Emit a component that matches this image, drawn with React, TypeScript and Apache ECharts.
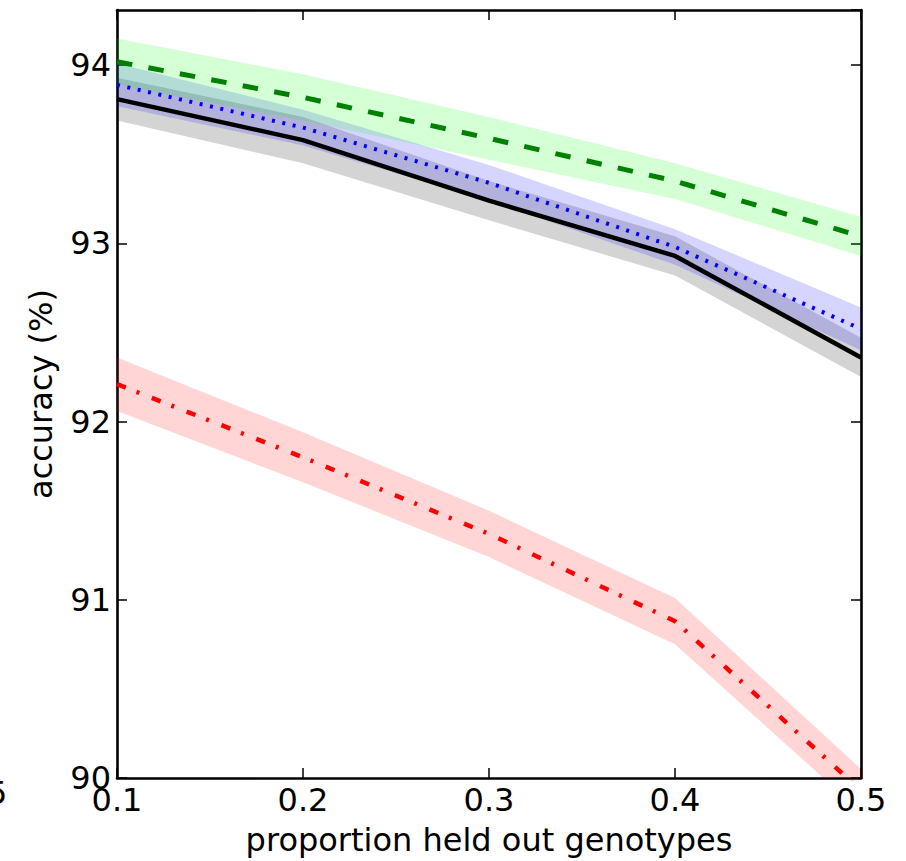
import React, { useEffect, useRef } from "react";
import * as echarts from "echarts";

const xTicks = ["0.1", "0.2", "0.3", "0.4", "0.5"];
const yTicks = [90, 91, 92, 93, 94];

const greenMean = [94.02, 93.82, 93.59, 93.35, 93.04];
const greenErr = [0.13, 0.13, 0.12, 0.1, 0.11];
const blueMean = [93.89, 93.65, 93.34, 92.98, 92.52];
const blueErr = [0.12, 0.1, 0.1, 0.1, 0.12];
const blackMean = [93.81, 93.58, 93.24, 92.93, 92.36];
const blackErr = [0.12, 0.13, 0.11, 0.11, 0.11];
const redMean = [92.21, 91.8, 91.37, 90.88, 89.93];
const redErr = [0.15, 0.14, 0.13, 0.13, 0.12];

const FONT = "DejaVu Sans";

function bandSeries(name: string, mean: number[], err: number[], color: string) {
  return [
    {
      type: "line",
      stack: name,
      data: mean.map((m, i) => m - err[i]),
      symbol: "none",
      lineStyle: { opacity: 0, width: 0 },
      silent: true,
      z: 1,
    },
    {
      type: "line",
      stack: name,
      data: err.map((e) => 2 * e),
      symbol: "none",
      lineStyle: { opacity: 0, width: 0 },
      areaStyle: { color, opacity: 1 },
      silent: true,
      z: 1,
    },
  ];
}

function lineSeries(mean: number[], color: string, width: number, type: any) {
  return {
    type: "line",
    data: mean,
    symbol: "none",
    lineStyle: { color, width, type, cap: "butt" },
    z: 3,
  };
}

export default function App() {
  const ref = useRef<HTMLDivElement>(null);
  useEffect(() => {
    if (!ref.current) return;
    const chart = echarts.init(ref.current, undefined, { renderer: "svg" });
    const tickStyle = { show: true, inside: true, length: 10, lineStyle: { color: "#000", width: 1.5 } };
    const catTick = { ...tickStyle, alignWithLabel: true };
    const axisLineStyle = { show: true, lineStyle: { color: "#000", width: 2.6 } };
    chart.setOption({
      animation: false,
      backgroundColor: "#fff",
      textStyle: { fontFamily: FONT },
      grid: { left: 117, right: 45, top: 10, bottom: 83, containLabel: false },
      xAxis: [
        {
          type: "category",
          data: xTicks,
          boundaryGap: false,
          position: "bottom",
          axisLine: axisLineStyle,
          axisTick: catTick,
          splitLine: { show: false },
          axisLabel: {
            fontSize: 32,
            color: "#000",
            fontFamily: FONT,
            margin: 6,
            interval: 0,
          },
          name: "proportion held out genotypes",
          nameLocation: "middle",
          nameGap: 46,
          nameTextStyle: { fontSize: 32, color: "#000", fontFamily: FONT },
        },
        {
          type: "category",
          data: xTicks,
          boundaryGap: false,
          position: "top",
          axisLine: axisLineStyle,
          axisTick: catTick,
          axisLabel: { show: false },
          splitLine: { show: false },
        },
      ],
      yAxis: [
        {
          type: "value",
          min: 90,
          max: 94.31,
          interval: 1,
          position: "left",
          axisLine: axisLineStyle,
          axisTick: tickStyle,
          splitLine: { show: false },
          axisLabel: {
            fontSize: 32,
            color: "#000",
            fontFamily: FONT,
            margin: 6,
            showMaxLabel: false,
            formatter: (v: number) => (yTicks.includes(v) ? String(v) : ""),
          },
          name: "accuracy (%)",
          nameLocation: "middle",
          nameGap: 60,
          nameTextStyle: { fontSize: 32, color: "#000", fontFamily: FONT },
        },
        {
          type: "value",
          min: 90,
          max: 94.31,
          interval: 1,
          position: "right",
          axisLine: axisLineStyle,
          axisTick: tickStyle,
          axisLabel: { show: false },
          splitLine: { show: false },
        },
      ],
      graphic: [
        {
          type: "text",
          x: -13,
          y: 777,
          silent: true,
          style: { text: "5", font: `32px "${FONT}"`, fill: "#000" },
        },
      ],
      series: [
        ...bandSeries("gray", blackMean, blackErr, "rgba(0,0,0,0.17)"),
        ...bandSeries("blue", blueMean, blueErr, "rgba(0,0,255,0.165)"),
        ...bandSeries("green", greenMean, greenErr, "rgba(0,255,0,0.165)"),
        ...bandSeries("red", redMean, redErr, "rgba(255,0,0,0.165)"),
        lineSeries(blackMean, "#000000", 4.5, "solid"),
        lineSeries(blueMean, "#0000ff", 4, [3, 7.6]),
        lineSeries(greenMean, "#008000", 5, [15.5, 16.5]),
        lineSeries(redMean, "#ff0000", 4.5, [9.5, 11.5, 3, 13.4]),
      ],
    });
    return () => chart.dispose();
  }, []);
  return (
    <div
      ref={ref}
      style={{ position: "absolute", left: 0, top: 0, width: 906, height: 861 }}
    />
  );
}
